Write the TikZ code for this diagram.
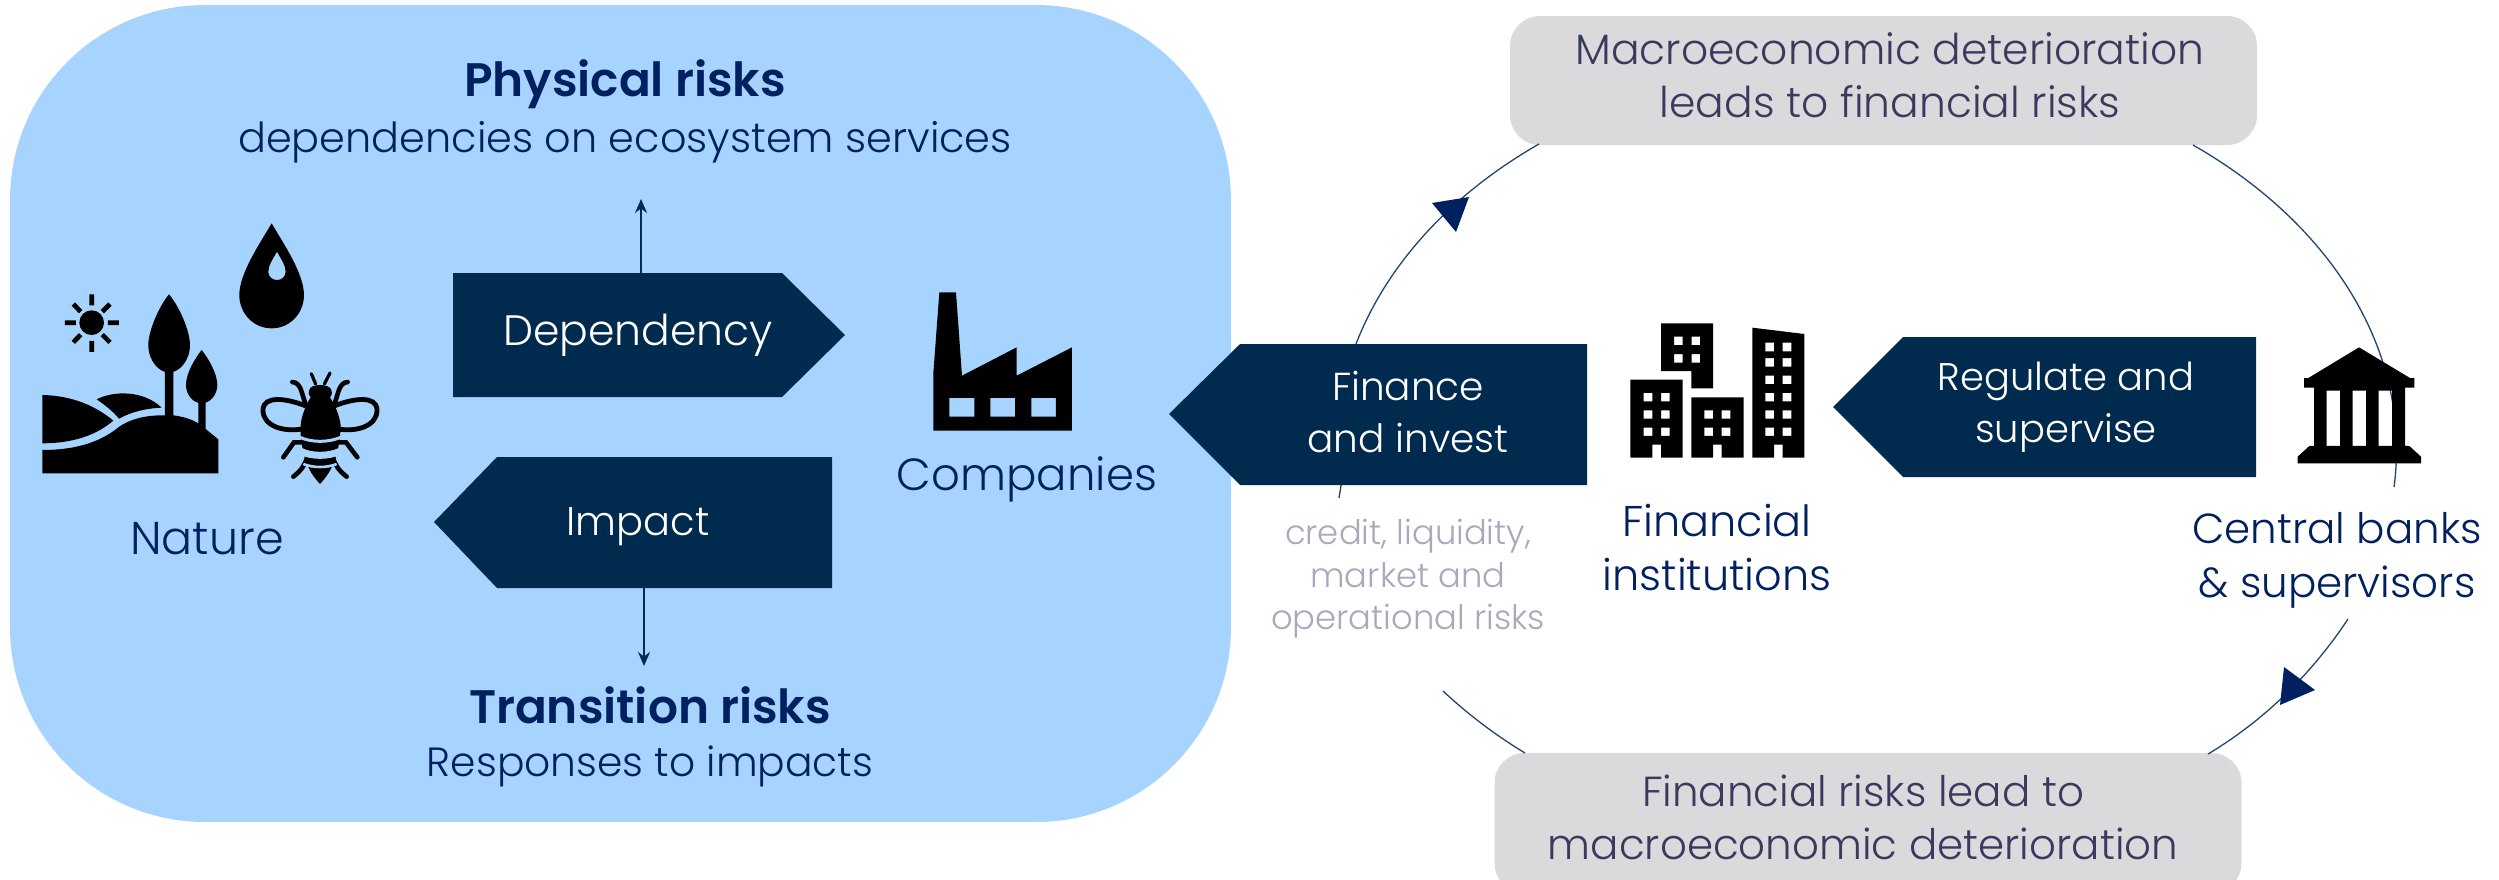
\documentclass[tikz,border=0pt]{standalone}
\usepackage{fontspec}
\setmainfont{Poppins}[UprightFont=* Light,BoldFont=* SemiBold]
\definecolor{skyfill}{HTML}{A6D4FF}
\definecolor{navybox}{HTML}{002A4E}
\definecolor{navytxt}{HTML}{002060}
\definecolor{greybox}{HTML}{DBD9DB}
\definecolor{greytxt}{HTML}{A9A9BC}
\definecolor{slatetxt}{HTML}{3A3A5E}
\definecolor{arcline}{HTML}{1F4570}
\usetikzlibrary{arrows.meta}
\tikzset{
 lbl/.style={inner sep=0,align=center,text=navytxt,font=\fontsize{#1}{54}\selectfont},
 head/.style={inner sep=0,align=center,text=navytxt,font=\fontsize{47}{54}\selectfont\bfseries},
 wlbl/.style={inner sep=0,align=center,text=white,font=\fontsize{#1}{52}\selectfont},
 slbl/.style={inner sep=0,align=center,text=slatetxt,font=\fontsize{#1}{53}\selectfont},
 rlbl/.style={inner sep=0,align=center,text=greytxt,font=\fontsize{33.8}{42.5}\selectfont},
 pent/.style={fill=navybox,draw=none},
 arcl/.style={draw=arcline,line width=1.3pt},
 thin arrow/.style={draw=navybox,line width=2pt,-{Stealth[length=14pt,width=12pt]}},
}
\begin{document}
\begin{tikzpicture}[x=1pt,y=-1pt]
\useasboundingbox (0,0) rectangle (2499,879);
\fill[skyfill,rounded corners=195pt] (10,5) rectangle (1231,822);
% grey boxes
\node[fill=greybox,rounded corners=30pt,minimum width=747pt,minimum height=129pt,inner sep=0] (topbox) at (1883.5,80.5) {};
\node[fill=greybox,rounded corners=30pt,minimum width=747pt,minimum height=140pt,inner sep=0] (botbox) at (1868,823) {};
% coordinates of cycle arcs
\coordinate (a1s) at (1356,344);
\coordinate (a1e) at (1539,144);
\coordinate (a2s) at (2193,145);
\coordinate (a2e) at (2394,487);
\coordinate (a3s) at (2348,619);
\coordinate (a3e) at (2208,754);
\coordinate (a4s) at (1443,691);
\coordinate (a4e) at (1525,753);
\coordinate (a5s) at (1342,480);
\coordinate (a5e) at (1339,498);
\draw[arcl] (a1s) .. controls (1386.5,264.9) and (1450.4,194.7) .. (a1e);
\draw[arcl] (a2s) .. controls (2335.5,226.6) and (2411.7,355.4) .. (a2e);
\draw[arcl] (a3s) .. controls (2314.5,669.7) and (2267.6,718.4) .. (a3e);
\draw[arcl] (a4s) .. controls (1467,713.4) and (1495,735) .. (a4e);
\draw[arcl] (a5s) -- (a5e);
\fill[navytxt] (1432,203) -- (1469,197) -- (1456,232) -- cycle;
\fill[navytxt] (2284,667) -- (2315,690) -- (2280,705) -- cycle;
% pentagons
\path[pent] (453,273) -- (782,273) -- (845,335) -- (782,397) -- (453,397) -- cycle;
\path[pent] (832,457) -- (497,457) -- (434,522) -- (497,588) -- (832,588) -- cycle;
\path[pent] (1587,344) -- (1240,344) -- (1169,414) -- (1240,485) -- (1587,485) -- cycle;
\path[pent] (2256,337) -- (1903,337) -- (1833,407) -- (1903,477) -- (2256,477) -- cycle;
% small arrows
\coordinate (upS) at (641,273); \coordinate (upE) at (641,199);
\coordinate (dnS) at (644,588); \coordinate (dnE) at (644,666);
\draw[thin arrow] (upS) -- (upE);
\draw[thin arrow] (dnS) -- (dnE);
% texts
\node[head] (phys) at (625,84) {Physical risks};
\node[lbl=41.4] (dep) at (625,142) {dependencies on ecosystem services};
\node[wlbl=42.5] (depn) at (638,335) {Dependency};
\node[wlbl=40] (imp) at (638,527) {Impact};
\node[lbl=46] (nat) at (207,539) {Nature};
\node[lbl=45] (comp) at (1027,479) {Companies};
\node[head] (trans) at (650,705) {Transition risks};
\node[lbl=40.8] (resp) at (650,766) {Responses to impacts};
\node[wlbl=39] (fin) at (1408,412) {Finance\\and invest};
\node[wlbl=38.5] (reg) at (2066,407) {Regulate and\\supervise};
\node[lbl=43] (fi) at (1717,548) {Financial\\institutions};
\node[lbl=42] (cb) at (2337,560) {Central banks\\\& supervisors};
\node[rlbl] (cr) at (1408,579) {credit, liquidity,\\market and\\operational risks};
\node[slbl=42.4] (mac) at (1890,75) {Macroeconomic deterioration\\leads to financial risks};
\node[slbl=42] (frl) at (1863,817) {Financial risks lead to\\macroeconomic deterioration};
% nature icons (zoom coordinates)
\begin{scope}[shift={(0,230)},x=0.3333pt,y=-0.3333pt]
 \fill (275,278) circle[radius=37pt*0.3333];
 \draw[line width=4.7pt] (195,278)--(228,278) (324,278)--(357,278) (275,193)--(275,226) (275,333)--(275,366)
   (220,222)--(242,245) (330,222)--(307,245) (220,337)--(242,314) (330,337)--(307,314);
 \fill (127,495) .. controls (220,497) and (290,530) .. (340,572) .. controls (290,615) and (220,640) .. (127,640) -- cycle;
 \fill (290,508) .. controls (340,482) and (430,480) .. (485,533) .. controls (440,535) and (395,545) .. (357,566) .. controls (340,545) and (315,525) .. (290,508) -- cycle;
 \fill (127,660) .. controls (220,660) and (290,640) .. (345,600) .. controls (380,570) and (430,555) .. (495,556) -- (495,425) -- (520,425) -- (520,556) .. controls (550,560) and (575,568) .. (595,580) -- (595,515) -- (617,515) -- (617,597) -- (655,628) -- (655,730) -- (127,730) -- cycle;
 \fill (507,193) .. controls (480,225) and (445,300) .. (445,345) .. controls (445,395) and (480,428) .. (507,428) .. controls (535,428) and (570,395) .. (570,345) .. controls (570,300) and (535,225) .. (507,193) -- cycle;
 \fill (605,360) .. controls (585,385) and (558,430) .. (558,465) .. controls (558,495) and (580,520) .. (605,520) .. controls (630,520) and (652,495) .. (652,465) .. controls (652,430) and (625,385) .. (605,360) -- cycle;
 \fill[even odd rule] (815,-20) .. controls (780,40) and (718,130) .. (718,195) .. controls (718,250) and (760,295) .. (815,295) .. controls (870,295) and (912,250) .. (912,195) .. controls (912,130) and (850,40) .. (815,-20) -- cycle
  (831,65) .. controls (820,85) and (805,105) .. (805,125) .. controls (805,140) and (817,150) .. (831,150) .. controls (845,150) and (857,140) .. (857,125) .. controls (857,105) and (842,85) .. (831,65) -- cycle;
\end{scope}
% bee
\begin{scope}[shift={(250,360)},x=0.3333pt,y=-0.3333pt]
 \draw[line width=4.8pt] (168,138) .. controls (110,115) and (40,105) .. (39,150) .. controls (38,195) and (95,220) .. (168,205);
 \draw[line width=4.8pt] (252,138) .. controls (310,115) and (380,105) .. (381,150) .. controls (382,195) and (325,220) .. (252,205);
 \draw[line width=3.2pt,line cap=round] (197,72)--(184,41) (223,72)--(240,39);
 \draw[line width=4.6pt,line cap=round] (168,135) .. controls (155,105) and (155,68) .. (127,66) (252,135) .. controls (265,105) and (265,68) .. (293,66)
   (165,247)--(132,247)--(100,292) (255,247)--(288,247)--(322,292)
   (172,290) .. controls (165,315) and (155,330) .. (130,350) (248,290) .. controls (255,315) and (265,330) .. (290,350);
 \fill (178,90) .. controls (180,70) and (240,70) .. (244,90) .. controls (250,105) and (240,108) .. (240,112) .. controls (255,135) and (268,165) .. (272,195) .. controls (272,220) and (268,250) .. (262,275) .. controls (250,320) and (235,345) .. (210,372) .. controls (185,345) and (170,320) .. (160,275) .. controls (154,250) and (150,220) .. (152,195) .. controls (155,165) and (168,135) .. (182,112) .. controls (182,108) and (172,105) .. (178,90) -- cycle;
 \draw[skyfill,line width=3pt] (150,232) .. controls (185,248) and (235,248) .. (272,232);
 \draw[skyfill,line width=7pt] (152,274) .. controls (185,290) and (235,290) .. (270,274);
 \draw[skyfill,line width=2.6pt] (160,312) .. controls (190,324) and (230,324) .. (260,312);
\end{scope}
% factory
\begin{scope}[shift={(880,260)},x=0.3333pt,y=-0.3333pt]
 \fill[even odd rule] (160,512) -- (160,340) -- (178,97) -- (228,97) -- (246,347) -- (410,262) -- (410,347) -- (576,262) -- (576,512) -- cycle
  (208,414) rectangle (283,470) (331,414) rectangle (405,470) (454,414) rectangle (528,470);
\end{scope}
% buildings
\begin{scope}[shift={(1600,300)},x=0.3333pt,y=-0.3333pt]
 \fill[even odd rule] (183,70) -- (339,70) -- (339,265) -- (274,265) -- (274,213) -- (183,213) -- cycle
  (222,110) rectangle (248,135) (275,110) rectangle (300,135) (222,162) rectangle (248,188) (275,162) rectangle (300,188);
 \fill[even odd rule] (91,239) -- (248,239) -- (248,473) -- (183,473) -- (183,434) -- (157,434) -- (157,473) -- (91,473) -- cycle
  (131,279) rectangle (157,304) (183,279) rectangle (209,304) (131,331) rectangle (157,356) (183,331) rectangle (209,356) (131,383) rectangle (157,408) (183,383) rectangle (209,408);
 \fill[even odd rule] (274,292) -- (431,292) -- (431,473) -- (365,473) -- (365,434) -- (339,434) -- (339,473) -- (274,473) -- cycle
  (313,331) rectangle (339,356) (365,331) rectangle (391,356) (313,383) rectangle (339,408) (365,383) rectangle (391,408);
 \fill[even odd rule] (457,83) -- (613,102) -- (613,473) -- (548,473) -- (548,434) -- (522,434) -- (522,473) -- (457,473) -- cycle
  (496,128) rectangle (522,154) (548,128) rectangle (574,154) (496,174) rectangle (522,200) (548,174) rectangle (574,200) (496,227) rectangle (522,252) (548,227) rectangle (574,252) (496,279) rectangle (522,304) (548,279) rectangle (574,304) (496,331) rectangle (522,356) (548,331) rectangle (574,356) (496,383) rectangle (522,408) (548,383) rectangle (574,408);
\end{scope}
% bank
\begin{scope}[shift={(2240,320)},x=0.3333pt,y=-0.3333pt]
 \fill[even odd rule] (357,82) -- (510,174) -- (523,174) -- (523,203) -- (495,203) -- (495,378) -- (508,378) -- (543,410) -- (543,430) -- (173,430) -- (173,410) -- (208,378) -- (222,378) -- (222,203) -- (192,203) -- (192,174) -- (205,174) -- cycle
  (260,212) rectangle (300,378) (338,212) rectangle (378,378) (416,212) rectangle (456,378);
\end{scope}
\end{tikzpicture}
\end{document}
